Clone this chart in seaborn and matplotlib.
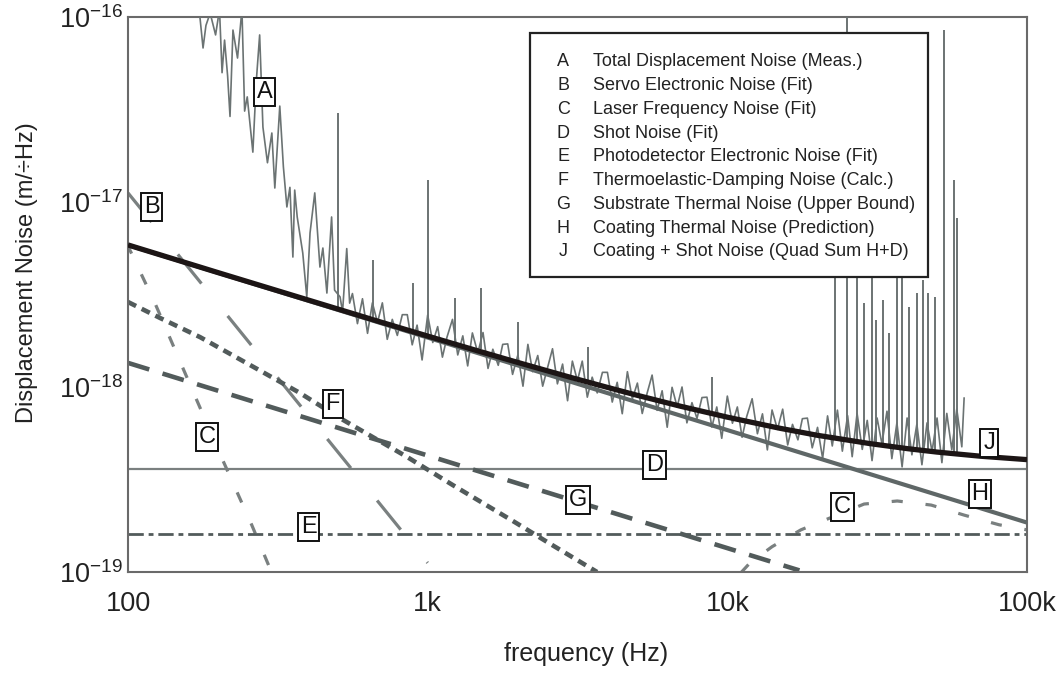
import numpy as np
import matplotlib
matplotlib.use("Agg")
import matplotlib.pyplot as plt
import seaborn as sns
from matplotlib.patches import Rectangle
from matplotlib.ticker import LogLocator, NullLocator, NullFormatter

UNIT = 1e-18  # all values below are in units of 1e-18 m/rtHz

# ---------------- data ----------------
# A: total displacement noise (measured), steep low-frequency part + noisy band
A_freq = [165, 174, 178, 182, 188, 196, 202, 206, 210, 215, 219, 224, 232, 240, 245, 250,
          261, 268, 275, 282, 292, 302, 309, 321, 330, 339, 347, 355, 360, 367, 383, 395,
          405, 420, 437, 447, 461, 478, 489, 510,
          520, 537, 549, 561, 583, 606, 630, 654, 680, 706, 733, 762, 792, 823, 855, 888,
          922, 958, 1000, 1040, 1080, 1120, 1160, 1210, 1260, 1310, 1360, 1410, 1470, 1530,
          1590, 1650, 1720, 1780, 1850, 1920, 2000, 2080, 2160, 2240, 2330, 2420, 2520, 2610,
          2710, 2820, 2930, 3040, 3160, 3280, 3410, 3540, 3680, 3830, 3980, 4130, 4290, 4460,
          4640, 4820, 5010, 5200, 5400, 5610, 5830, 6060, 6300, 6540, 6800, 7060, 7330, 7620,
          7920, 8230, 8550, 8880, 9220, 9580, 10000, 10400, 10800, 11200, 11600, 12100, 12600,
          13100, 13600, 14100, 14700, 15300, 15900, 16500, 17200, 17800, 18500, 19200, 20000,
          20800, 21600, 22400, 23300, 24200, 25200, 26100, 27100, 28200, 29300, 30400, 31600,
          32800, 34100, 35400, 36800, 38300, 39800, 41300, 42900, 44600, 46400, 48200, 50100,
          52000, 54000, 56100, 58300, 60600, 61700]
A_val = [140, 98, 68, 90, 105, 80, 110, 50, 75, 48, 29, 85, 60, 110, 31, 37,
         18.6, 45, 80, 25.4, 16.3, 23.6, 11.9, 33, 15.5, 9.4, 12.0, 5.04, 11.6, 8.3, 5.3, 3.07,
         6.8, 11.2, 4.45, 5.64, 3.22, 8.3, 3.34, 3.07,
         2.55, 5.6, 2.84, 3.2, 2.20, 3.0, 1.95, 2.85, 2.23, 2.85, 1.81, 2.32, 1.90, 2.46, 2.46, 1.69,
         2.16, 1.40, 2.45, 1.74, 2.12, 1.45, 1.86, 2.32, 1.49, 1.89, 1.30, 1.96, 1.53, 1.97,
         1.26, 1.60, 1.31, 1.70, 1.71, 1.17, 1.49, 1.01, 1.70, 1.21, 1.48, 1.01, 1.30, 1.61,
         1.04, 1.33, 0.843, 1.38, 1.08, 1.38, 0.881, 1.13, 0.929, 1.20, 1.20, 0.829, 1.06, 0.717,
         1.21, 0.862, 1.05, 0.719, 0.927, 1.16, 0.748, 0.954, 0.606, 0.996, 0.780, 1.00, 0.640, 0.823,
         0.676, 0.877, 0.881, 0.607, 0.780, 0.528, 0.893, 0.637, 0.780, 0.535, 0.691, 0.864, 0.559,
         0.716, 0.457, 0.751, 0.590, 0.759, 0.486, 0.628, 0.518, 0.674, 0.679, 0.469, 0.605,
         0.411, 0.698, 0.48, 0.75, 0.45, 0.70, 0.42, 0.72, 0.46, 0.66, 0.40, 0.68,
         0.493, 0.74, 0.41, 0.64, 0.37, 0.68, 0.43, 0.63, 0.38, 0.64, 0.448, 0.68,
         0.39, 0.72, 0.458, 0.76, 0.475, 0.88]
# narrow spectral lines in A: frequency, base level, peak level
A_spike_freq = [501, 656, 891, 1000, 1230, 1510, 2000, 3430, 8900,
                22900, 25100, 27100, 28600, 30300, 31400, 33000, 34700, 36900, 38300,
                40400, 43000, 45000, 46800, 49300, 52700, 56900, 58200]
A_spike_base = [2.7, 2.4, 2.0, 1.9, 1.75, 1.6, 1.4, 1.05, 0.72,
                0.53, 0.52, 0.51, 0.50, 0.49, 0.49, 0.48, 0.48, 0.47, 0.47,
                0.46, 0.46, 0.45, 0.45, 0.45, 0.44, 0.44, 0.43]
A_spike_peak = [30.3, 4.86, 3.65, 13.2, 3.03, 3.43, 2.25, 1.64, 1.13,
                20, 150, 9, 2.84, 6, 2.30, 2.95, 1.96, 12, 7,
                2.71, 3.22, 3.79, 3.22, 3.07, 85, 13.2, 8.2]

B_freq = [100, 1000]
B_val = [11.2, 0.112]

C_low_freq = [100, 123, 152, 207, 259, 302]
C_low_val = [5.78, 2.84, 1.28, 0.403, 0.179, 0.0988]
C_high_freq = [11100, 11900, 14100, 17600, 28600, 36900, 47900, 61700, 80700, 100000]
C_high_val = [0.0991, 0.112, 0.137, 0.169, 0.233, 0.242, 0.230, 0.203, 0.180, 0.169]

D_freq = [100, 100000]
D_val = [0.360, 0.360]

E_freq = [100, 100000]
E_val = [0.160, 0.160]

F_freq = [100, 128, 174, 280, 374, 509, 851, 1213, 1975, 2545, 3675]
F_val = [2.88, 2.36, 1.86, 1.21, 0.93, 0.68, 0.42, 0.295, 0.184, 0.143, 0.100]

G_freq = [100, 17400]
G_val = [1.35, 0.102]

H_freq = [100, 100000]
H_val = [5.85, 0.185]

J_freq = [100, 200, 400, 700, 1000, 1500, 2000, 3000, 4000, 5000, 7000, 10000,
          15000, 20000, 30000, 40000, 50000, 70000, 100000]
J_val = [5.86, 4.15, 2.95, 2.24, 1.885, 1.553, 1.357, 1.127, 0.993, 0.902, 0.786, 0.687,
         0.598, 0.548, 0.494, 0.464, 0.445, 0.4225, 0.405]

legend_keys = ["A", "B", "C", "D", "E", "F", "G", "H", "J"]
legend_texts = ["Total Displacement Noise (Meas.)",
                "Servo Electronic Noise (Fit)",
                "Laser Frequency Noise (Fit)",
                "Shot Noise (Fit)",
                "Photodetector Electronic Noise (Fit)",
                "Thermoelastic-Damping Noise (Calc.)",
                "Substrate Thermal Noise (Upper Bound)",
                "Coating Thermal Noise (Prediction)",
                "Coating + Shot Noise (Quad Sum H+D)"]

# curve tags: letter, frequency, level
tag_keys = ["A", "B", "C", "C", "D", "E", "F", "G", "H", "J"]
tag_freq = [286, 120, 183.5, 24200, 5710, 401, 482, 3180, 69700, 74700]
tag_val = [39.3, 9.4, 0.537, 0.2246, 0.379, 0.175, 0.81, 0.245, 0.264, 0.498]

x_ticks = [100, 1000, 10000, 100000]
x_tick_labels = ["100", "1k", "10k", "100k"]
y_ticks = [1e-19, 1e-18, 1e-17, 1e-16]
y_tick_labels = [r"$10^{-19}$", r"$10^{-18}$", r"$10^{-17}$", r"$10^{-16}$"]

# ---------------- styling ----------------
sns.set_style("white")
plt.rcParams["font.family"] = ["Liberation Sans", "DejaVu Sans"]
plt.rcParams["mathtext.default"] = "regular"
plt.rcParams["lines.scale_dashes"] = False
plt.rcParams["lines.solid_capstyle"] = "butt"
plt.rcParams["lines.dash_capstyle"] = "butt"

DARK = "#525b5b"
MID = "#6b7373"
LIGHT = "#7a8080"

fig = plt.figure(figsize=(10.56, 6.74), dpi=100)
ax = fig.add_axes([128 / 1056, 1 - 572 / 674, (1027 - 128) / 1056, (572 - 17) / 674])
ax.set_xscale("log")
ax.set_yscale("log")


def curve(freq, val, **kw):
    sns.lineplot(x=np.asarray(freq, float), y=np.asarray(val, float) * UNIT, ax=ax,
                 estimator=None, sort=False, **kw)


# measured trace
curve(A_freq, A_val, color=MID, linewidth=1.2, zorder=3)
ax.vlines(A_spike_freq, np.asarray(A_spike_base) * UNIT, np.asarray(A_spike_peak) * UNIT,
          color=MID, linewidth=1.4, zorder=3)

curve(B_freq, B_val, color=LIGHT, linewidth=2.3, linestyle=(0, (27, 30)), zorder=2)
curve(C_low_freq, C_low_val, color=LIGHT, linewidth=2.3, linestyle=(2, (8, 16.5)), zorder=2)
curve(C_high_freq, C_high_val, color=LIGHT, linewidth=2.3, linestyle=(0, (8, 16.5)), zorder=2)
curve(D_freq, D_val, color=LIGHT, linewidth=1.6, zorder=2)
curve(E_freq, E_val, color=DARK, linewidth=2.0, linestyle=(0, (11, 3.5, 3.5, 3.5)), zorder=2)
curve(F_freq, F_val, color=DARK, linewidth=3.3, linestyle=(0, (6.5, 4.5)), zorder=2)
curve(G_freq, G_val, color=DARK, linewidth=3.3, linestyle=(0, (16, 10)), zorder=2)
curve(H_freq, H_val, color="#5f6767", linewidth=3.0, zorder=4)
curve(J_freq, J_val, color="#1c1515", linewidth=3.8, zorder=5)

ax.set_xlim(100, 100000)
ax.set_ylim(1e-19, 1e-16)

# tags on curves
for k, f, v in zip(tag_keys, tag_freq, tag_val):
    ax.text(f, v * UNIT, k, ha="center", va="center", fontsize=17, color="#111111",
            bbox=dict(boxstyle="square,pad=0.12", fc="white", ec="#111111", lw=1.4),
            zorder=8)

# legend box
ax.add_patch(Rectangle((0.447, 0.532), 0.443, 0.44, transform=ax.transAxes,
                       facecolor="white", edgecolor="#222222", linewidth=1.6, zorder=10,
                       clip_on=False))
row0, step = 0.919, 0.0428
for i, (k, t) in enumerate(zip(legend_keys, legend_texts)):
    y = row0 - i * step
    ax.text(0.484, y, k, transform=ax.transAxes, ha="center", va="center",
            fontsize=13, color="#222222", zorder=11)
    ax.text(0.517, y, t, transform=ax.transAxes, ha="left", va="center",
            fontsize=13, color="#222222", zorder=11)

# axes / ticks
ax.set_xticks(x_ticks)
ax.set_xticklabels(x_tick_labels)
ax.xaxis.set_minor_locator(LogLocator(base=10, subs=np.arange(2, 10), numticks=20))
ax.xaxis.set_minor_formatter(NullFormatter())
ax.set_yticks(y_ticks)
ax.set_yticklabels(y_tick_labels)
ax.yaxis.set_minor_locator(NullLocator())
ax.tick_params(axis="both", which="both", direction="in", colors="#555555",
               labelcolor="#222222", top=False, right=False)
ax.tick_params(axis="both", which="major", length=6, width=1.0, labelsize=19.5)
ax.tick_params(axis="x", which="minor", length=4, width=0.9)
ax.tick_params(axis="x", which="major", pad=14)
ax.tick_params(axis="y", which="major", pad=4)
for s in ax.spines.values():
    s.set_color("#6a6a6a")
    s.set_linewidth(1.5)
ax.grid(False)

ax.set_xlabel("frequency (Hz)", fontsize=18, color="#222222")
ax.set_ylabel("Displacement Noise (m/\u00f7Hz)", fontsize=17, color="#222222")
ax.xaxis.set_label_coords(0.51, -0.127)
ax.yaxis.set_label_coords(-0.1, 0.54)

fig.savefig("out.png", dpi=100)
